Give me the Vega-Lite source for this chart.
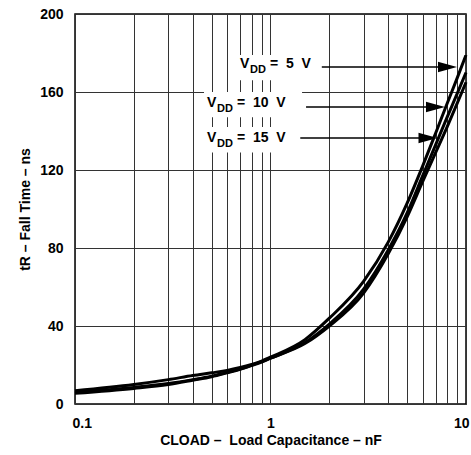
{
  "$schema": "https://vega.github.io/schema/vega-lite/v6.json",
  "width": 391,
  "height": 390,
  "autosize": {"type": "none"},
  "padding": {"left": 75, "top": 14, "right": 5, "bottom": 51},
  "background": "white",
  "config": {
    "view": {"stroke": "black", "strokeWidth": 1.5},
    "font": "Liberation Sans",
    "axis": {
      "labelFont": "Liberation Sans", "labelFontWeight": "bold", "labelFontSize": 14, "labelColor": "black",
      "titleFont": "Liberation Sans", "titleFontWeight": "bold", "titleFontSize": 14, "titleColor": "black",
      "gridColor": "#333333", "gridOpacity": 1, "gridWidth": 1,
      "ticks": false, "domain": false
    }
  },
  "datasets": {
    "curves": [
      {"c": 0.1, "t": 6.8, "vdd": "5 V"}, {"c": 0.2, "t": 10, "vdd": "5 V"}, {"c": 0.3, "t": 12.5, "vdd": "5 V"}, {"c": 0.4, "t": 14.6, "vdd": "5 V"}, {"c": 0.5, "t": 16, "vdd": "5 V"}, {"c": 0.6, "t": 17.2, "vdd": "5 V"}, {"c": 0.7, "t": 18.7, "vdd": "5 V"}, {"c": 0.8, "t": 20.3, "vdd": "5 V"}, {"c": 0.9, "t": 22, "vdd": "5 V"}, {"c": 1, "t": 24, "vdd": "5 V"}, {"c": 1.5, "t": 33, "vdd": "5 V"}, {"c": 2, "t": 44, "vdd": "5 V"}, {"c": 3, "t": 63, "vdd": "5 V"}, {"c": 4, "t": 83, "vdd": "5 V"}, {"c": 5, "t": 103, "vdd": "5 V"}, {"c": 6, "t": 122, "vdd": "5 V"}, {"c": 7, "t": 139, "vdd": "5 V"}, {"c": 8, "t": 154, "vdd": "5 V"}, {"c": 9, "t": 167, "vdd": "5 V"}, {"c": 10, "t": 179, "vdd": "5 V"},
      {"c": 0.1, "t": 6, "vdd": "10 V"}, {"c": 0.2, "t": 8.5, "vdd": "10 V"}, {"c": 0.3, "t": 10.5, "vdd": "10 V"}, {"c": 0.4, "t": 12.5, "vdd": "10 V"}, {"c": 0.5, "t": 14.3, "vdd": "10 V"}, {"c": 0.6, "t": 16.2, "vdd": "10 V"}, {"c": 0.7, "t": 18, "vdd": "10 V"}, {"c": 0.8, "t": 19.9, "vdd": "10 V"}, {"c": 0.9, "t": 21.7, "vdd": "10 V"}, {"c": 1, "t": 23.5, "vdd": "10 V"}, {"c": 1.5, "t": 31.5, "vdd": "10 V"}, {"c": 2, "t": 41, "vdd": "10 V"}, {"c": 3, "t": 59, "vdd": "10 V"}, {"c": 4, "t": 79, "vdd": "10 V"}, {"c": 5, "t": 98, "vdd": "10 V"}, {"c": 6, "t": 117, "vdd": "10 V"}, {"c": 7, "t": 133, "vdd": "10 V"}, {"c": 8, "t": 147, "vdd": "10 V"}, {"c": 9, "t": 159, "vdd": "10 V"}, {"c": 10, "t": 170, "vdd": "10 V"},
      {"c": 0.1, "t": 5.5, "vdd": "15 V"}, {"c": 0.2, "t": 8, "vdd": "15 V"}, {"c": 0.3, "t": 10, "vdd": "15 V"}, {"c": 0.4, "t": 12.2, "vdd": "15 V"}, {"c": 0.5, "t": 14, "vdd": "15 V"}, {"c": 0.6, "t": 16, "vdd": "15 V"}, {"c": 0.7, "t": 17.8, "vdd": "15 V"}, {"c": 0.8, "t": 19.7, "vdd": "15 V"}, {"c": 0.9, "t": 21.5, "vdd": "15 V"}, {"c": 1, "t": 23.5, "vdd": "15 V"}, {"c": 1.5, "t": 31, "vdd": "15 V"}, {"c": 2, "t": 40, "vdd": "15 V"}, {"c": 3, "t": 57, "vdd": "15 V"}, {"c": 4, "t": 77, "vdd": "15 V"}, {"c": 5, "t": 96, "vdd": "15 V"}, {"c": 6, "t": 114, "vdd": "15 V"}, {"c": 7, "t": 129, "vdd": "15 V"}, {"c": 8, "t": 142, "vdd": "15 V"}, {"c": 9, "t": 154, "vdd": "15 V"}, {"c": 10, "t": 165, "vdd": "15 V"}
    ],
    "notes": [
      {"vdd": "5 V", "eq": "= \u00a05 \u00a0V", "tx": 0.698, "ty": 172.2, "ax1": 1.83, "ax2": 8.04, "ay": 172.8, "bx1": 0.666, "bx2": 1.75, "by1": 166, "by2": 179},
      {"vdd": "10 V", "eq": "= \u00a010 \u00a0V", "tx": 0.4733, "ty": 152.5, "ax1": 1.52, "ax2": 6.98, "ay": 152.3, "bx1": 0.457, "bx2": 1.45, "by1": 147, "by2": 160},
      {"vdd": "15 V", "eq": "= \u00a015 \u00a0V", "tx": 0.4733, "ty": 134.5, "ax1": 1.42, "ax2": 6.39, "ay": 136.4, "bx1": 0.457, "bx2": 1.38, "by1": 129, "by2": 142}
    ]
  },
  "layer": [
    {
      "data": {"name": "curves"},
      "mark": {"type": "line", "color": "black", "strokeWidth": 3, "interpolate": "monotone"},
      "encoding": {
        "x": {"field": "c", "type": "quantitative",
          "scale": {"type": "log", "domain": [0.1, 10], "nice": false},
          "axis": {"values": [0.1, 0.2, 0.3, 0.4, 0.5, 0.6, 0.7, 0.8, 0.9, 1, 2, 3, 4, 5, 6, 7, 8, 9, 10],
            "labelExpr": "datum.value == 0.1 ? '0.1' : datum.value == 1 ? '1' : datum.value == 10 ? '10' : ''",
            "labelFlush": true, "labelFlushOffset": 3, "labelPadding": 12, "labelOverlap": false,
            "title": "CLOAD – \u00a0Load Capacitance – nF", "titlePadding": 3}},
        "y": {"field": "t", "type": "quantitative",
          "scale": {"domain": [0, 200], "nice": false},
          "axis": {"values": [0, 20, 40, 60, 80, 100, 120, 140, 160, 180, 200],
            "labelExpr": "datum.value % 40 == 0 ? datum.label : ''",
            "labelPadding": 12, "labelOverlap": false,
            "title": "tR – Fall Time – ns", "titlePadding": 7}},
        "detail": {"field": "vdd"}
      }
    },
    {
      "data": {"name": "notes"},
      "mark": {"type": "rect", "color": "white"},
      "encoding": {
        "x": {"field": "bx1", "type": "quantitative"},
        "x2": {"field": "bx2"},
        "y": {"field": "by1", "type": "quantitative"},
        "y2": {"field": "by2"}
      }
    },
    {
      "data": {"name": "notes"},
      "mark": {"type": "rule", "color": "black", "strokeWidth": 1.5},
      "encoding": {
        "x": {"field": "ax1", "type": "quantitative"},
        "x2": {"field": "ax2"},
        "y": {"field": "ay", "type": "quantitative"}
      }
    },
    {
      "data": {"name": "notes"},
      "mark": {"type": "point", "shape": "M-1,-0.55L1,0L-1,0.55Z", "filled": true, "color": "black", "size": 361, "opacity": 1},
      "encoding": {
        "x": {"field": "ax2", "type": "quantitative"},
        "y": {"field": "ay", "type": "quantitative"}
      }
    },
    {
      "data": {"name": "notes"},
      "mark": {"type": "text", "font": "Liberation Sans", "fontWeight": "bold", "fontSize": 14, "align": "left", "baseline": "alphabetic", "color": "black"},
      "encoding": {
        "x": {"field": "tx", "type": "quantitative"},
        "y": {"field": "ty", "type": "quantitative"},
        "text": {"value": "V"}
      }
    },
    {
      "data": {"name": "notes"},
      "mark": {"type": "text", "font": "Liberation Sans", "fontWeight": "bold", "fontSize": 11, "align": "left", "baseline": "alphabetic", "color": "black", "dx": 10, "dy": 5},
      "encoding": {
        "x": {"field": "tx", "type": "quantitative"},
        "y": {"field": "ty", "type": "quantitative"},
        "text": {"value": "DD"}
      }
    },
    {
      "data": {"name": "notes"},
      "mark": {"type": "text", "font": "Liberation Sans", "fontWeight": "bold", "fontSize": 14, "align": "left", "baseline": "alphabetic", "color": "black", "dx": 30},
      "encoding": {
        "x": {"field": "tx", "type": "quantitative"},
        "y": {"field": "ty", "type": "quantitative"},
        "text": {"field": "eq"}
      }
    }
  ]
}
